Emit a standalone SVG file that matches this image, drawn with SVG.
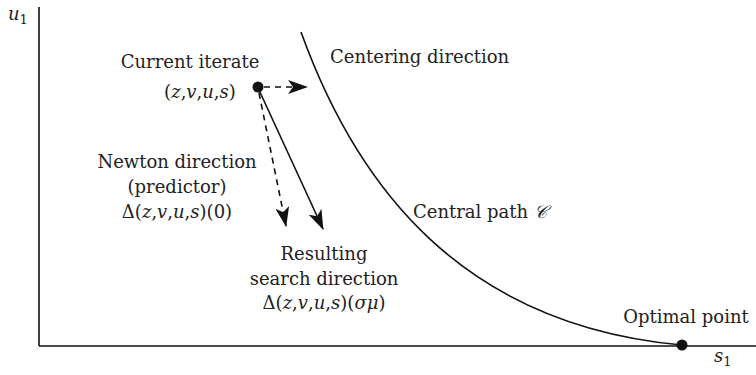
<svg xmlns="http://www.w3.org/2000/svg" width="756" height="375" viewBox="0 0 756 375">
  <style>
    text { font-family: "DejaVu Serif", "Liberation Serif", serif; font-size: 18px; fill: #222; }
    .c { text-anchor: middle; }
    .m { font-style: italic; }
    .ax { stroke: #111; stroke-width: 1.6; fill: none; }
    .ln { stroke: #111; stroke-width: 1.6; fill: none; }
    .dash { stroke-dasharray: 6 5; }
  </style>
  <defs>
    <marker id="ah" viewBox="0 0 20 14" refX="19" refY="7" markerWidth="20" markerHeight="14" markerUnits="userSpaceOnUse" orient="auto">
      <path d="M0,0 L20,7 L0,14 L5,7 Z" fill="#111"/>
    </marker>
  </defs>

  <!-- axes -->
  <g id="axes">
    <line class="ax" x1="39" y1="7" x2="39" y2="346"/>
    <line class="ax" x1="39" y1="346" x2="756" y2="346"/>
    <text x="8" y="20" class="m">u<tspan font-size="13" font-style="normal" dy="4">1</tspan></text>
    <text x="714" y="362" class="m">s<tspan font-size="13" font-style="normal" dy="4">1</tspan></text>
  </g>

  <!-- central path -->
  <g id="central-path">
    <path class="ln" d="M301,32 C357,187 462,325 682,345"/>
    <text x="413" y="218">Central path <tspan class="m">𝒞</tspan></text>
  </g>

  <!-- current iterate -->
  <g id="iterate">
    <circle cx="258" cy="87" r="5.5" fill="#111"/>
    <text x="190" y="68" class="c">Current iterate</text>
    <text x="200" y="98" class="c">(<tspan class="m">z</tspan>,<tspan class="m">v</tspan>,<tspan class="m">u</tspan>,<tspan class="m">s</tspan>)</text>
  </g>

  <!-- optimal point -->
  <g id="optimal">
    <circle cx="682" cy="345" r="5.5" fill="#111"/>
    <text x="686" y="323" class="c">Optimal point</text>
  </g>

  <g id="labels">
    <text x="330" y="63">Centering direction</text>
    <text x="177" y="168" class="c">Newton direction</text>
    <text x="177" y="193" class="c">(predictor)</text>
    <text x="177" y="218" class="c">Δ(<tspan class="m">z</tspan>,<tspan class="m">v</tspan>,<tspan class="m">u</tspan>,<tspan class="m">s</tspan>)(0)</text>
    <text x="324" y="260" class="c">Resulting</text>
    <text x="324" y="285" class="c">search direction</text>
    <text x="324" y="309" class="c">Δ(<tspan class="m">z</tspan>,<tspan class="m">v</tspan>,<tspan class="m">u</tspan>,<tspan class="m">s</tspan>)(<tspan class="m">σμ</tspan>)</text>
  </g>

  <!-- direction arrows -->
  <g id="connectors">
    <line class="ln dash" x1="264" y1="87" x2="307" y2="87" marker-end="url(#ah)"/>
    <line class="ln dash" x1="259" y1="93" x2="286" y2="226" marker-end="url(#ah)"/>
    <line class="ln" x1="259" y1="90" x2="323" y2="229" marker-end="url(#ah)"/>
  </g>
</svg>
